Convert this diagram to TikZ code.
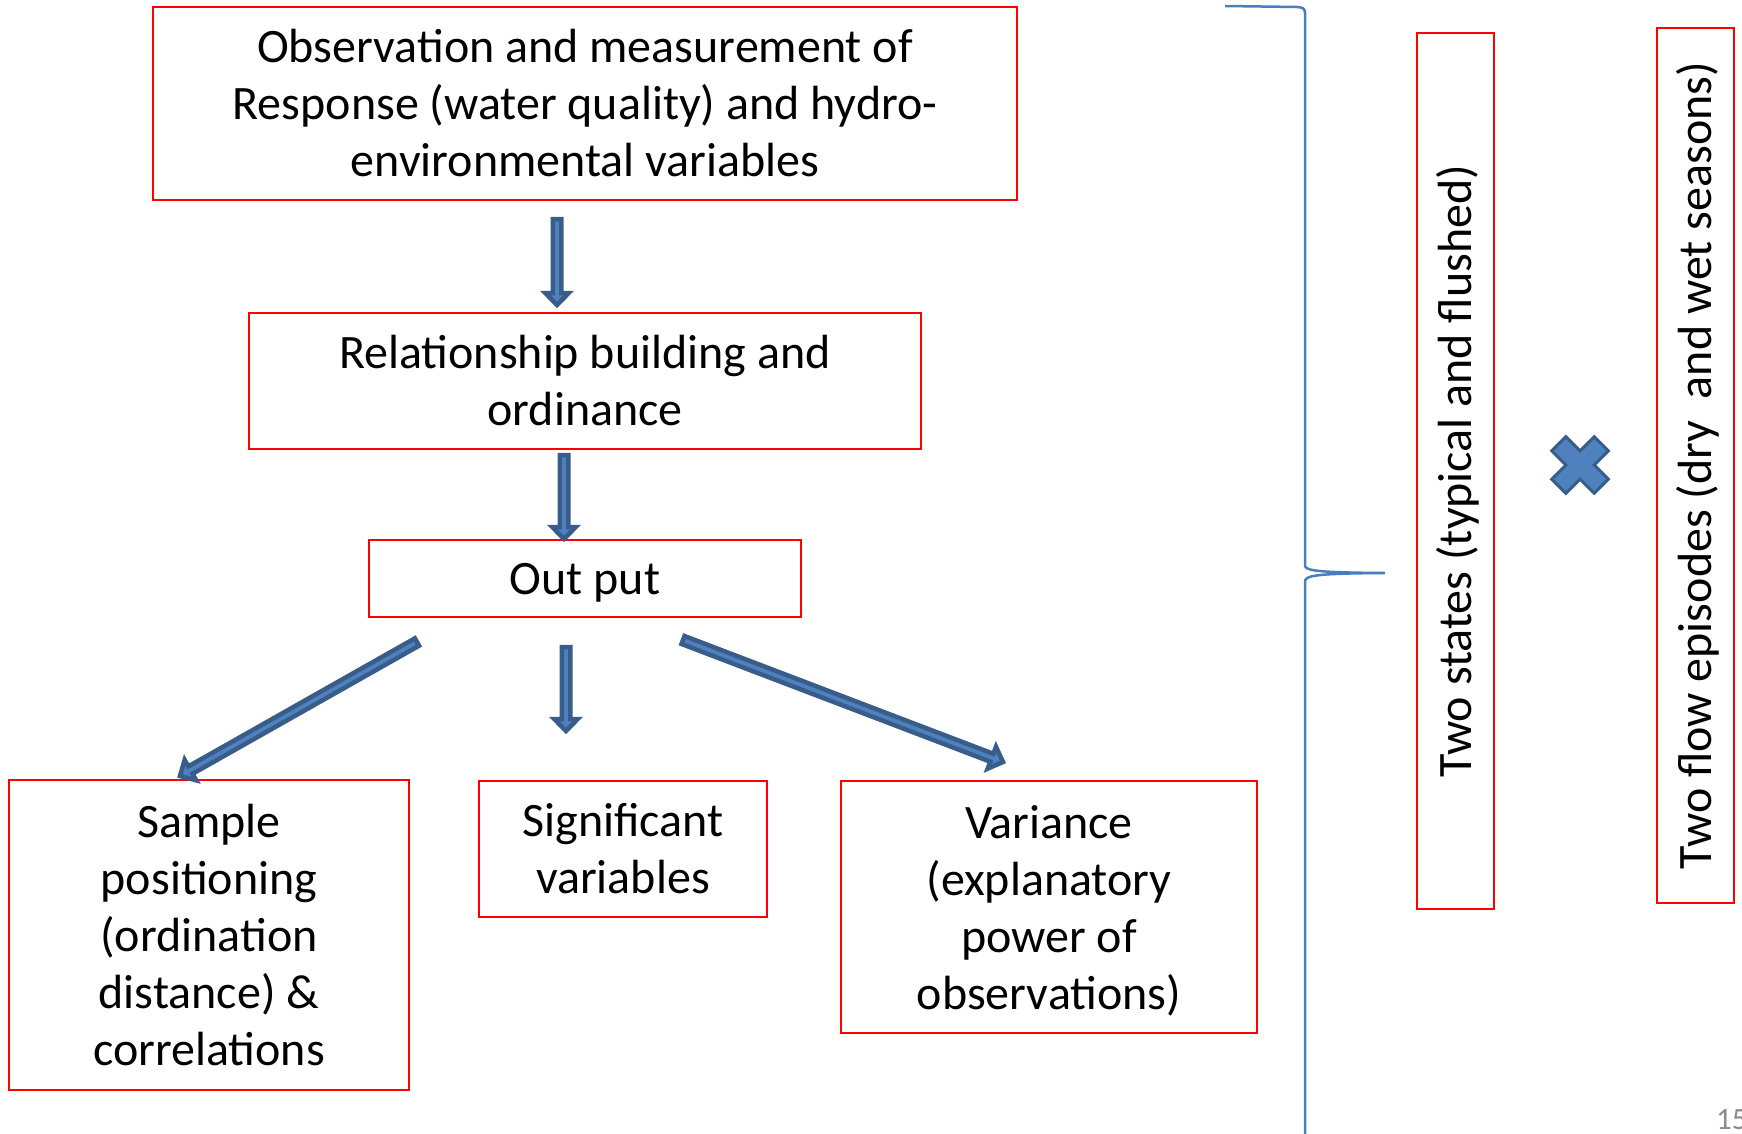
\documentclass[tikz,border=0pt]{standalone}
\usepackage{fontspec}
\setmainfont{Carlito}
\usetikzlibrary{calc}
\definecolor{boxred}{HTML}{FF0000}
\definecolor{arrfill}{HTML}{4F81BD}
\definecolor{arrline}{HTML}{385D8A}
\definecolor{bracecol}{HTML}{4A7EBB}
\definecolor{pagegrey}{HTML}{8C8C8C}
\tikzset{
  box/.style={draw=boxred, line width=2pt, align=center, inner sep=0pt,
    font=\fontsize{48}{57}\selectfont},
  oneline/.style={text height=32pt, text depth=0pt},
  blockarr/.style={draw=arrline, fill=arrfill, line width=4.5pt, line join=miter},
  bracestyle/.style={draw=bracecol, line width=2.5pt},
}
% #1 start, #2 tip, #3 name
\newcommand\blockarrow[3]{%
  \coordinate (#3h) at ($(#2)!12pt!(#1)$);
  \draw[blockarr] ($(#1)!4.25pt!90:(#2)$) -- ($(#3h)!4.25pt!90:(#2)$)
    -- ($(#3h)!11.75pt!90:(#2)$) -- (#2) -- ($(#3h)!11.75pt!-90:(#2)$)
    -- ($(#3h)!4.25pt!-90:(#2)$) -- ($(#1)!4.25pt!-90:(#2)$) -- cycle;}
\begin{document}
\begin{tikzpicture}[x=1pt,y=-1pt]
\useasboundingbox (0,0) rectangle (1742,1134);

\node[box, minimum width=864pt, minimum height=193pt] (obs) at (585,103.5)
  {Observation and measurement of\\Response (water quality) and hydro-\\environmental variables};
\node[box, minimum width=672pt, minimum height=136pt] (rel) at (585,381)
  {Relationship building and\\ordinance};
\node[box, oneline, minimum width=432pt, minimum height=77pt] (out) at (585,578.5)
  {Out put};
\node[box, minimum width=400pt, minimum height=310pt] (samp) at (209,935)
  {Sample\\positioning\\(ordination\\distance) \&\\correlations};
\node[box, minimum width=288pt, minimum height=136pt] (sig) at (623,849)
  {Significant\\variables};
\node[box, minimum width=416pt, minimum height=252pt] (var) at (1049,907)
  {\rule{0pt}{34pt}Variance\\(explanatory\\power of\\\smash{observations)}};

\node[box, oneline, rotate=90, minimum width=876pt, minimum height=77pt] (states) at (1455.5,471)
  {Two states (typical and flushed)};
\node[box, oneline, rotate=90, minimum width=875pt, minimum height=77pt] (flow) at (1695.5,465.5)
  {Two flow episodes (dry\ \ and wet seasons)};

% arrow end points
\coordinate (a1s) at (557,219);  \coordinate (a1e) at (557,305);
\coordinate (a2s) at (564,455);  \coordinate (a2e) at (564,539);
\coordinate (a3s) at (566,647);  \coordinate (a3e) at (566,731);
\coordinate (a4s) at (417,642);  \coordinate (a4e) at (180,776);
\coordinate (a5s) at (683,640);  \coordinate (a5e) at (1003,762);
\blockarrow{a1s}{a1e}{ar1}
\blockarrow{a2s}{a2e}{ar2}
\blockarrow{a3s}{a3e}{ar3}
\blockarrow{a4s}{a4e}{ar4}
\blockarrow{a5s}{a5e}{ar5}

% brace
\draw[bracestyle] (1225,6) -- (1297,7) .. controls (1303,7.5) and (1305,8.5) .. (1305,13)
  -- (1305,565) .. controls (1305,570) and (1310,572.5) .. (1385,573)
  .. controls (1310,573.5) and (1305,576) .. (1305,582) -- (1305,1140);

% multiply sign
\begin{scope}[shift={(1580,465)}, rotate=45]
\draw[blockarr, line width=3pt] (10,30) -- (10,10) -- (30,10) -- (30,-10) -- (10,-10) -- (10,-30)
  -- (-10,-30) -- (-10,-10) -- (-30,-10) -- (-30,10) -- (-10,10) -- (-10,30) -- cycle;
\end{scope}

\node[anchor=base west, inner sep=0pt, text=pagegrey, font=\fontsize{31}{36}\selectfont] (pg) at (1716,1129) {15};
\end{tikzpicture}
\end{document}
